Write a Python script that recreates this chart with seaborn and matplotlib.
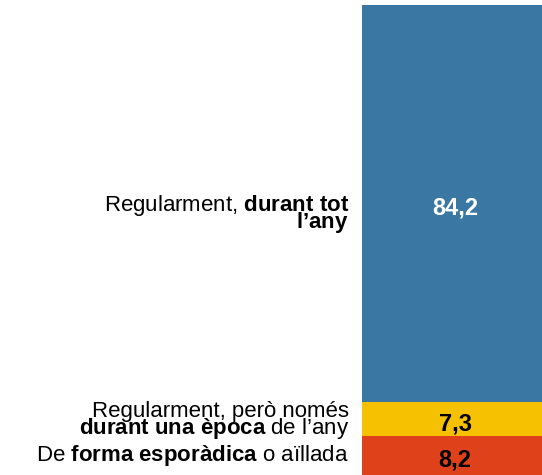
import matplotlib
matplotlib.use("Agg")
import matplotlib.pyplot as plt
import matplotlib.transforms as mtransforms
import seaborn as sns
import pandas as pd

sns.set_theme(style="white")
plt.rcParams['font.family'] = ['Liberation Sans', 'DejaVu Sans']
plt.rcParams['mathtext.fontset'] = 'custom'
plt.rcParams['mathtext.rm'] = 'Liberation Sans'
plt.rcParams['mathtext.bf'] = 'Liberation Sans:bold'
plt.rcParams['mathtext.it'] = 'Liberation Sans:italic'

# Data
categories = [
    "Regularment, $\\bf{durant\\ tot}$\n$\\bf{l’any}$",
    "Regularment, però només\n$\\bf{durant\\ una\\ època}$ de l’any",
    "De $\\bf{forma\\ esporàdica}$ o aïllada",
]
values = [84.2, 7.3, 8.2]
value_labels = ["84,2", "7,3", "8,2"]
colors = ["#3a77a2", "#f6c100", "#df421b"]
text_colors = ["white", "black", "black"]

# layout: pixel offset of last baseline below segment centre, line spacing
last_baseline = [24.2, 14.9, 5.3]
line_spacing = [0.55, 0.68, 0.68]

df = pd.DataFrame({"cat": categories, "value": values})
df["bottom"] = df["value"].cumsum() - df["value"]

fig = plt.figure(figsize=(5.42, 4.75), dpi=100)
ax = fig.add_axes([362 / 542, 0.0, 180 / 542, 470 / 475])

for i, row in df.iterrows():
    sns.barplot(x=[0], y=[row["value"]], bottom=row["bottom"], color=colors[i],
                width=1.0, ax=ax, saturation=1, linewidth=0)

total = df["value"].sum()
ax.set_xlim(-0.5, 0.5)
ax.set_ylim(total, 0)
ax.axis("off")

trans_lab = mtransforms.blended_transform_factory(ax.transAxes, ax.transData)
for i, row in df.iterrows():
    yc = row["bottom"] + row["value"] / 2
    ax.annotate(value_labels[i], xy=(0, yc), xycoords="data",
                xytext=(3, -11), textcoords="offset pixels",
                ha="center", va="baseline", fontsize=17,
                fontweight="bold", color=text_colors[i])
    ax.annotate(row["cat"], xy=(0, yc), xycoords=trans_lab,
                xytext=(-13, -last_baseline[i]), textcoords="offset pixels",
                ha="right", va="baseline", fontsize=16, color="black",
                linespacing=line_spacing[i], annotation_clip=False)

fig.savefig("out.png", dpi=100)
